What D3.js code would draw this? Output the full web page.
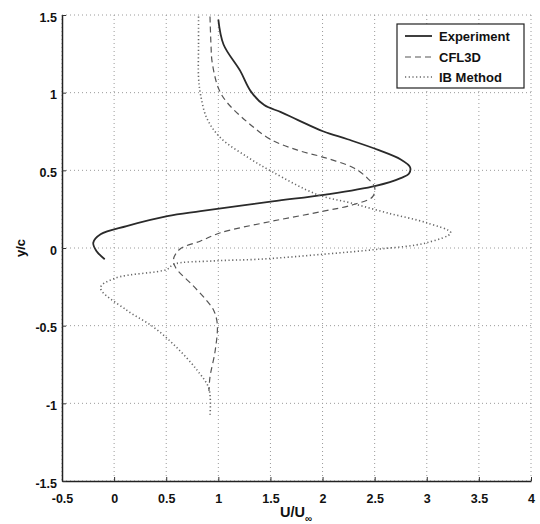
<!DOCTYPE html>
<html>
<head>
<meta charset="utf-8">
<script src="https://cdn.jsdelivr.net/npm/d3@7"></script>
<style>
body { margin: 0; background: #fff; }
svg text { font-family: "Liberation Sans", Arial, sans-serif; }
</style>
</head>
<body>
<svg id="chart" width="540" height="524"></svg>
<script>
// Data (U/U_inf, y/c)
const experiment = [
  [1.00, 1.47], [1.05, 1.31], [1.21, 1.14], [1.31, 1.01], [1.44, 0.92],
  [1.60, 0.875], [1.76, 0.825], [2.01, 0.75], [2.24, 0.70], [2.54, 0.63],
  [2.75, 0.57], [2.84, 0.52], [2.83, 0.48], [2.75, 0.45], [2.51, 0.40],
  [2.03, 0.344], [1.52, 0.30], [0.83, 0.237], [0.51, 0.205],
  [0.12, 0.141], [-0.13, 0.088], [-0.20, 0.034], [-0.17, -0.019], [-0.09, -0.072]
];
const cfl3d = [
  [0.92, 1.49], [0.93, 1.30], [0.94, 1.20], [1.00, 1.03], [1.08, 0.94],
  [1.28, 0.81], [1.50, 0.70], [1.76, 0.63], [2.03, 0.58], [2.30, 0.515],
  [2.43, 0.45], [2.50, 0.39], [2.48, 0.33], [2.30, 0.28], [2.01, 0.237],
  [1.52, 0.173], [1.02, 0.098], [0.83, 0.045], [0.63, -0.008], [0.57, -0.072],
  [0.59, -0.126], [0.76, -0.244], [0.89, -0.34], [0.955, -0.40], [0.99, -0.49],
  [0.97, -0.66], [0.92, -0.83], [0.91, -0.92]
];
const ibMethod = [
  [0.81, 1.49], [0.81, 1.30], [0.81, 1.10], [0.83, 0.985], [0.89, 0.835],
  [1.02, 0.71], [1.28, 0.585], [1.52, 0.49], [1.95, 0.344], [2.27, 0.29],
  [2.62, 0.226], [3.00, 0.162], [3.23, 0.098], [3.00, 0.034], [2.53, -0.008],
  [2.01, -0.04], [1.40, -0.072], [0.955, -0.083], [0.57, -0.105], [0.51, -0.137],
  [0.01, -0.194], [-0.13, -0.256], [0.12, -0.40], [0.38, -0.51], [0.60, -0.64],
  [0.80, -0.79], [0.91, -0.906], [0.92, -1.08]
];
const xTicks = [-0.5, 0, 0.5, 1, 1.5, 2, 2.5, 3, 3.5, 4];
const yTicks = [-1.5, -1, -0.5, 0, 0.5, 1, 1.5];
const seriesNames = ["Experiment", "CFL3D", "IB Method"];

const svg = d3.select("#chart");
const pL = 62, pR = 531, pT = 15, pB = 481;
const x = d3.scaleLinear().domain([-0.5, 4]).range([pL, pR]);
const y = d3.scaleLinear().domain([-1.5, 1.5]).range([pB, pT]);

// Grid
const grid = svg.append("g");
grid.selectAll("line.gx").data(xTicks).join("line")
  .attr("x1", d => x(d)).attr("x2", d => x(d))
  .attr("y1", pT).attr("y2", pB)
  .attr("stroke", "#9a9a9a").attr("stroke-width", 1).attr("stroke-dasharray", "1,3");
grid.selectAll("line.gy").data(yTicks).join("line")
  .attr("x1", pL).attr("x2", pR)
  .attr("y1", d => y(d)).attr("y2", d => y(d))
  .attr("stroke", "#9a9a9a").attr("stroke-width", 1).attr("stroke-dasharray", "1,3");

// Axes
const fmt = d => String(d);
const xAxis = d3.axisBottom(x).tickValues(xTicks).tickFormat(fmt).tickSizeInner(-4).tickSizeOuter(0).tickPadding(13);
const yAxis = d3.axisLeft(y).tickValues(yTicks).tickFormat(fmt).tickSizeInner(-4).tickSizeOuter(0).tickPadding(5);
const gx = svg.append("g").attr("transform", `translate(0,${pB})`).call(xAxis);
const gy = svg.append("g").attr("transform", `translate(${pL},0)`).call(yAxis);
[gx, gy].forEach(g => {
  g.select(".domain").attr("stroke", "#222").attr("stroke-width", 1.5);
  g.selectAll(".tick line").attr("stroke", "#333");
  g.selectAll(".tick text").attr("fill", "#111").attr("font-size", 12.5).attr("font-weight", "bold")
    .attr("font-family", "Liberation Sans, Arial, sans-serif");
});
gy.selectAll(".tick text").attr("dy", "0.5em");

// Axis labels
const xl = svg.append("text").attr("x", 296).attr("y", 517).attr("text-anchor", "middle")
  .attr("font-size", 14.5).attr("font-weight", "bold").attr("fill", "#111");
xl.append("tspan").text("U/U");
xl.append("tspan").attr("dy", 5).attr("font-size", 10).text("∞");
svg.append("text").attr("transform", "translate(25,248) rotate(-90)").attr("text-anchor", "middle")
  .attr("font-size", 13).attr("font-weight", "bold").attr("fill", "#111").text("y/c");

// Curves
const line = d3.line().x(d => x(d[0])).y(d => y(d[1])).curve(d3.curveCatmullRom.alpha(0.5));
const styles = [
  { data: experiment, color: "#2a2a2a", width: 1.8, dash: null },
  { data: cfl3d, color: "#555", width: 1.2, dash: "6,4" },
  { data: ibMethod, color: "#666", width: 1.6, dash: "1.2,2.5" }
];
styles.forEach(s => {
  svg.append("path").datum(s.data).attr("d", line)
    .attr("fill", "none").attr("stroke", s.color).attr("stroke-width", s.width)
    .attr("stroke-dasharray", s.dash);
});

// Legend
const lg = svg.append("g");
lg.append("rect").attr("x", 397).attr("y", 24).attr("width", 127).attr("height", 64)
  .attr("fill", "#fff").attr("stroke", "#222").attr("stroke-width", 1.2);
const rows = [36, 57, 77];
seriesNames.forEach((name, i) => {
  const s = styles[i];
  lg.append("line").attr("x1", 405).attr("x2", 432).attr("y1", rows[i]).attr("y2", rows[i])
    .attr("stroke", s.color).attr("stroke-width", s.width).attr("stroke-dasharray", s.dash);
  lg.append("text").attr("x", 439).attr("y", rows[i] + 4.5).attr("font-size", 13)
    .attr("font-weight", "bold").attr("fill", "#111").text(name);
});
</script>
</body>
</html>
